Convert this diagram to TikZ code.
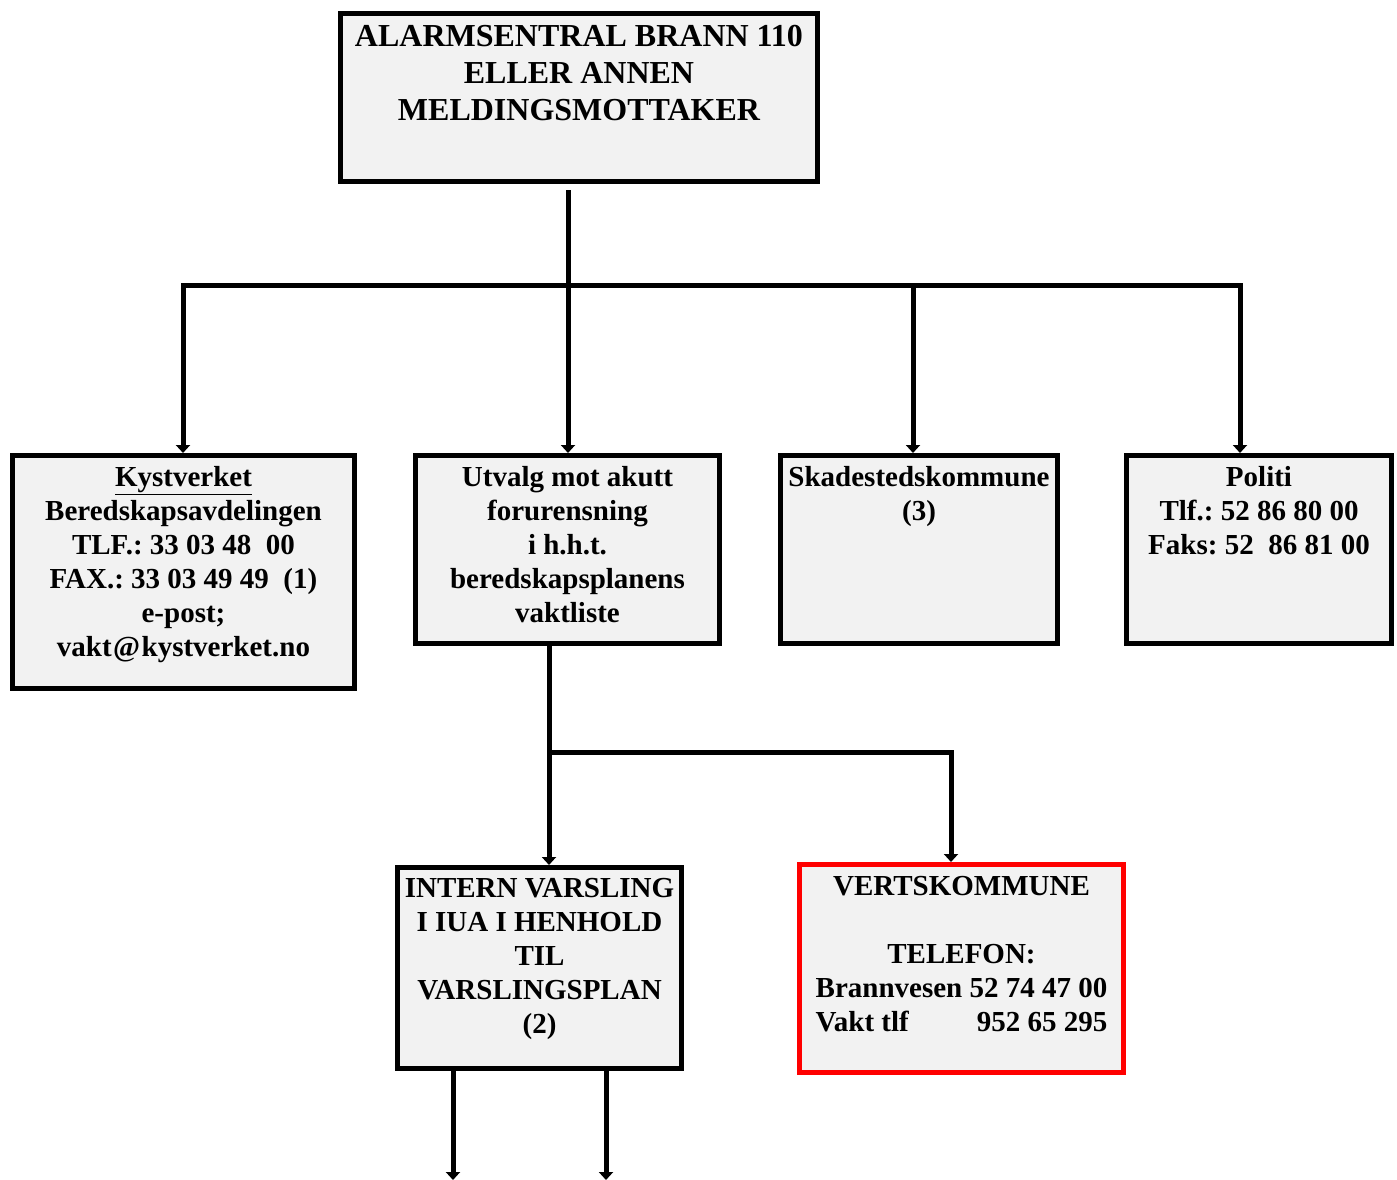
\documentclass[tikz,border=0pt]{standalone}
\usepackage{fontspec}
\setmainfont{Liberation Serif}
\usetikzlibrary{arrows.meta}
\definecolor{boxfill}{HTML}{F2F2F2}
\definecolor{redline}{HTML}{FF0000}
\newlength\vwidth
\frenchspacing
\begin{document}
\settowidth{\vwidth}{\fontsize{29}{34}\selectfont\bfseries Brannvesen 52 74 47 00}%
\begin{tikzpicture}[x=1pt,y=-1pt,
  box/.style={draw=black, line width=5pt, fill=boxfill, inner sep=0pt},
  redbox/.style={box, draw=redline},
  txt/.style={anchor=north, align=center, inner sep=0pt, font=\fontsize{29}{34}\selectfont\bfseries},
  bigtxt/.style={anchor=north, align=center, inner sep=0pt, font=\fontsize{32}{37}\selectfont\bfseries},
  conn/.style={line width=5pt, line cap=rect},
  arr/.style={line width=5pt, -{Triangle[width=14pt,length=8pt]}}]
\useasboundingbox (0,0) rectangle (1397,1180);
% boxes
\node[box, minimum width=477pt, minimum height=168pt] (top) at (579,97.5) {};
\node[box, minimum width=342pt, minimum height=233pt] (kyst) at (183.5,572) {};
\node[box, minimum width=304pt, minimum height=188pt] (utv) at (567.5,549.5) {};
\node[box, minimum width=277pt, minimum height=188pt] (skade) at (919,549.5) {};
\node[box, minimum width=265pt, minimum height=188pt] (pol) at (1259,549.5) {};
\node[box, minimum width=284pt, minimum height=201pt] (intern) at (539.5,968) {};
\node[redbox, minimum width=324pt, minimum height=208pt] (verts) at (961.5,968.5) {};
% texts
\node[bigtxt] (toptxt) at (579,25) {ALARMSENTRAL BRANN 110\\ELLER ANNEN\\MELDINGSMOTTAKER};
\node[txt] (kysttxt) at (183.5,466) {\underline{Kystverket}\\Beredskapsavdelingen\\TLF.: 33 03 48\ \ 00\\FAX.: 33 03 49 49\ \ (1)\\e-post;\\vakt\kern1.5pt@\kern1.5pt kystverket.no};
\node[txt] (utvtxt) at (567.5,466) {Utvalg mot akutt\\forurensning\\i h.h.t.\\beredskapsplanens\\vaktliste};
\node[txt] (skadetxt) at (919,466) {Skadestedskommune\\(3)};
\node[txt] (poltxt) at (1259,466) {Politi\\Tlf.: 52 86 80 00\\Faks: 52\ \ 86 81 00};
\node[txt] (interntxt) at (539.5,878) {INTERN VARSLING\\I IUA I HENHOLD\\TIL\\VARSLINGSPLAN\\(2)};
\node[txt] (vertstxt) at (961.5,876) {VERTSKOMMUNE\\ \\TELEFON:\\Brannvesen 52 74 47 00\\\makebox[\vwidth]{Vakt tlf\hfill 952 65 295}};
% connectors
\coordinate (t0) at (568,192);
\coordinate (t1) at (568,285);
\coordinate (hl) at (183,285);
\coordinate (hr) at (1240,285);
\coordinate (h3) at (913,285);
\draw[conn] (t0) -- (t1);
\draw[conn] (hl) -- (hr);
\draw[arr] (hl) -- (hl |- kyst.north);
\draw[arr] (t1) -- (t1 |- utv.north);
\draw[arr] (h3) -- (h3 |- skade.north);
\draw[arr] (hr) -- (hr |- pol.north);
\coordinate (u0) at (549,646);
\coordinate (u1) at (549,752);
\coordinate (u2) at (951,752);
\draw[arr] (u0) -- (u0 |- intern.north);
\draw[conn] (u1) -- (u2);
\draw[arr] (u2) -- (u2 |- verts.north);
\coordinate (i1) at (453,1071);
\coordinate (i2) at (606,1071);
\coordinate (e1) at (453,1180);
\coordinate (e2) at (606,1180);
\draw[arr] (i1) -- (e1);
\draw[arr] (i2) -- (e2);
\end{tikzpicture}
\end{document}
